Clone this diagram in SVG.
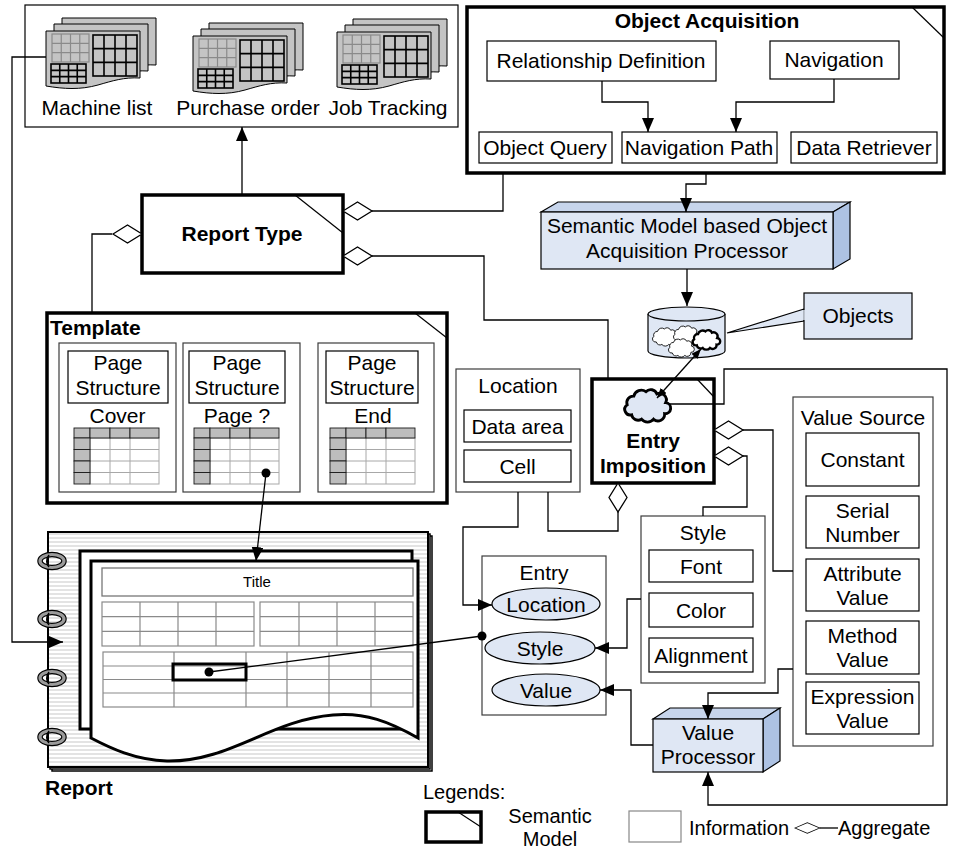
<svg xmlns="http://www.w3.org/2000/svg" xmlns:xlink="http://www.w3.org/1999/xlink" width="960" height="850" viewBox="0 0 960 850">
<style>
  .t { font-family: "Liberation Sans", Arial, sans-serif; font-size: 21px; fill: #000; }
  .c { text-anchor: middle; }
  .b { font-weight: bold; }
  .lg { font-size: 20px; }
  .info { fill: #fff; stroke: #3c3c3c; stroke-width: 1.2; }
  .box { fill: #fff; stroke: #000; stroke-width: 1.2; }
  .sem { fill: #fff; stroke: #000; stroke-width: 3.5; }
  .corner { fill: none; stroke: #000; stroke-width: 1.2; }
  .ln { fill: none; stroke: #000; stroke-width: 1.3; }
  .blue { fill: #dfe7f4; stroke: #000; stroke-width: 1.2; }
  .blueTop { fill: #c7d5ec; stroke: #000; stroke-width: 1.2; }
  .blueSide { fill: #adc2e3; stroke: #000; stroke-width: 1.2; }
  .dia { fill: #fff; stroke: #000; stroke-width: 1.3; }
  .pg { fill: #c4c4c4; stroke: #000; stroke-width: 1; }
  .gg { fill: none; stroke: #8a8a8a; stroke-width: 1.2; }
  .dg { fill: none; stroke: #000; stroke-width: 1.6; }
  .btn { fill: #bdbdbd; stroke: #1a1a1a; stroke-width: 0.9; }
  .cloud { fill: #fff; stroke: #000; stroke-width: 1.4; }
</style>
<defs>
  <marker id="ah" viewBox="0 0 14 12" refX="14" refY="6" markerWidth="14" markerHeight="12" orient="auto" markerUnits="userSpaceOnUse">
    <path d="M0,0 L14,6 L0,12 z" fill="#000"/>
  </marker>
  <marker id="ahs" viewBox="0 0 10 8" refX="10" refY="4" markerWidth="10" markerHeight="8" orient="auto-start-reverse" markerUnits="userSpaceOnUse">
    <path d="M0,0 L10,4 L0,8 z" fill="#000"/>
  </marker>
  <marker id="dot" viewBox="0 0 10 10" refX="5" refY="5" markerWidth="10" markerHeight="10" markerUnits="userSpaceOnUse">
    <circle cx="5" cy="5" r="4.5" fill="#000"/>
  </marker>
  <pattern id="stripes" width="6" height="4" patternUnits="userSpaceOnUse">
    <rect width="6" height="4" fill="#fff"/>
    <line x1="0" y1="2" x2="6" y2="2" stroke="#c8c8c8" stroke-width="1"/>
  </pattern>
  <path id="cloudShape" d="M-14,8 a5,5 0 0 1 -4,-9 a6,6 0 0 1 6,-8 a7,7 0 0 1 11,-4 a6,6 0 0 1 10,2 a6,6 0 0 1 8,8 a5,5 0 0 1 -1,10 a6,6 0 0 1 -10,5 a7,7 0 0 1 -11,0 a6,6 0 0 1 -9,-4 z"/>
  <path id="diamond" d="M0,0 L14.5,-9 L29,0 L14.5,9 z"/>
  <path id="sheet" d="M0,0 H94 V47 C78,46 66,50 52,54 C34,59 18,58 0,55 Z"/>
  <!-- stacked spreadsheet document icon -->
  <g id="docstack">
    <use xlink:href="#sheet" class="pg" transform="translate(16,-13)"/>
    <use xlink:href="#sheet" class="pg" transform="translate(8,-7)"/>
    <use xlink:href="#sheet" class="pg"/>
    <rect x="6" y="3" width="37" height="28" class="gg"/>
    <path d="M15.25,3 V31 M24.5,3 V31 M33.75,3 V31 M6,12.33 H43 M6,21.67 H43" class="gg"/>
    <rect x="47" y="4" width="44" height="41" class="dg"/>
    <path d="M58,4 V45 M69,4 V45 M80,4 V45 M47,17.67 H91 M47,31.33 H91" class="dg"/>
    <rect x="5" y="33" width="35" height="19" class="dg"/>
    <path d="M13.75,33 V52 M22.5,33 V52 M31.25,33 V52 M5,39.33 H40 M5,45.67 H40" class="dg"/>
  </g>
  <!-- small table with header buttons -->
  <g id="tbl">
    <rect x="16" y="10" width="69" height="46" fill="#fff" stroke="#a8a8a8" stroke-width="1"/>
    <path d="M36,10 V56 M56,10 V56 M16,21.5 H85 M16,33 H85 M16,44.5 H85" stroke="#a8a8a8" stroke-width="1" fill="none"/>
    <rect x="0" y="0" width="16" height="10" class="btn"/>
    <rect x="16" y="0" width="20" height="10" class="btn"/>
    <rect x="36" y="0" width="20" height="10" class="btn"/>
    <rect x="56" y="0" width="29" height="10" class="btn"/>
    <rect x="0" y="10" width="16" height="11.5" class="btn"/>
    <rect x="0" y="21.5" width="16" height="11.5" class="btn"/>
    <rect x="0" y="33" width="16" height="11.5" class="btn"/>
    <rect x="0" y="44.5" width="16" height="11.5" class="btn"/>
  </g>
  <!-- binder ring -->
  <g id="ring">
    <ellipse cx="0" cy="0" rx="12" ry="6.5" fill="none" stroke="#000" stroke-width="5.5"/>
    <ellipse cx="0" cy="0" rx="12" ry="6.5" fill="none" stroke="#9a9a9a" stroke-width="3.2"/>
    <path d="M-3,-6 C-6,-2 -6,3 -3,6" fill="none" stroke="#000" stroke-width="1.5"/>
  </g>
</defs>

<rect width="960" height="850" fill="#fff"/>

<!-- report type catalogue -->
<g id="report-catalogue">
  <rect x="25" y="5" width="433" height="122" class="box"/>
  <use xlink:href="#docstack" transform="translate(46,31)"/>
  <use xlink:href="#docstack" transform="translate(193,36)"/>
  <use xlink:href="#docstack" transform="translate(337,32)"/>
  <text x="97" y="115" class="t c">Machine list</text>
  <text x="248" y="115" class="t c">Purchase order</text>
  <text x="388" y="115" class="t c">Job Tracking</text>
</g>

<!-- object acquisition -->
<g id="object-acquisition">
  <rect x="467" y="7" width="477" height="166" class="sem"/>
  <line x1="912" y1="7" x2="944" y2="38" class="corner"/>
  <text x="707" y="28" class="t c b">Object Acquisition</text>
  <rect x="487" y="41" width="229" height="40" class="box"/>
  <text x="601" y="68" class="t c">Relationship Definition</text>
  <rect x="770" y="41" width="129" height="38" class="box"/>
  <text x="834" y="67" class="t c">Navigation</text>
  <rect x="479" y="132" width="133" height="31" class="box"/>
  <text x="545" y="155" class="t c">Object Query</text>
  <rect x="622" y="132" width="155" height="31" class="box"/>
  <text x="699" y="155" class="t c">Navigation Path</text>
  <rect x="791" y="132" width="146" height="31" class="box"/>
  <text x="864" y="155" class="t c">Data Retriever</text>
</g>

<!-- report type -->
<g id="report-type">
  <rect x="142" y="195" width="201" height="78" class="sem"/>
  <line x1="295" y1="195" x2="343" y2="233" class="corner"/>
  <text x="242" y="241" class="t c b">Report Type</text>
</g>

<!-- acquisition processor -->
<g id="acquisition-processor">
  <polygon points="541,212 558,202 850,202 833,212" class="blueTop"/>
  <polygon points="833,212 850,202 850,259 833,269" class="blueSide"/>
  <rect x="541" y="212" width="292" height="57" class="blue"/>
  <text x="687" y="233" class="t c">Semantic Model based Object</text>
  <text x="687" y="258" class="t c">Acquisition Processor</text>
</g>

<!-- object store -->
<g id="object-store">
  <path d="M648,314 V351 A38.5,7 0 0 0 725,351 V314" class="blue"/>
  <ellipse cx="686.5" cy="314" rx="38.5" ry="7" class="blue"/>
  <use xlink:href="#cloudShape" class="cloud" transform="translate(665,337) scale(0.62)"/>
  <use xlink:href="#cloudShape" class="cloud" transform="translate(686,335) scale(0.62)"/>
  <use xlink:href="#cloudShape" class="cloud" transform="translate(681,348) scale(0.62)"/>
  <use xlink:href="#cloudShape" class="cloud" transform="translate(706,340) scale(0.66)" style="stroke-width:3.6"/>
</g>

<!-- objects callout -->
<g id="objects-callout">
  <polygon points="804,309 727,333 804,321" class="blue"/>
  <rect x="804" y="293" width="108" height="46" class="blue"/>
  <line x1="804" y1="310" x2="804" y2="320" stroke="#dfe7f4" stroke-width="1.5"/>
  <text x="858" y="323" class="t c">Objects</text>
</g>

<!-- template -->
<g id="template">
  <rect x="47" y="313" width="400" height="190" class="sem"/>
  <line x1="415" y1="313" x2="447" y2="338" class="corner"/>
  <text x="50" y="335" class="t b">Template</text>
  <rect x="59" y="343" width="117" height="149" class="info"/>
  <rect x="68" y="351" width="100" height="52" class="box"/>
  <text x="118" y="370" class="t c">Page</text>
  <text x="118" y="395" class="t c">Structure</text>
  <text x="117.5" y="423" class="t c">Cover</text>
  <use xlink:href="#tbl" transform="translate(74,428)"/>
  <rect x="183" y="343" width="117" height="149" class="info"/>
  <rect x="189" y="351" width="96" height="52" class="box"/>
  <text x="237" y="370" class="t c">Page</text>
  <text x="237" y="395" class="t c">Structure</text>
  <text x="237" y="423" class="t c">Page ?</text>
  <use xlink:href="#tbl" transform="translate(194,428)"/>
  <rect x="318" y="343" width="116" height="149" class="info"/>
  <rect x="326" y="351" width="92" height="52" class="box"/>
  <text x="372" y="370" class="t c">Page</text>
  <text x="372" y="395" class="t c">Structure</text>
  <text x="373" y="423" class="t c">End</text>
  <use xlink:href="#tbl" transform="translate(330,428)"/>
</g>

<!-- report -->
<g id="report">
  <rect x="52" y="536" width="380" height="235" fill="#fff" stroke="#000" stroke-width="1.5"/>
  <rect x="50" y="534" width="380" height="235" fill="#fff" stroke="#000" stroke-width="1.5"/>
  <rect x="48" y="532" width="380" height="235" fill="url(#stripes)" stroke="#000" stroke-width="2"/>
  <rect x="80" y="551" width="332" height="178" fill="#fff" stroke="#000" stroke-width="3"/>
  <path d="M91,561 H418 V738 C390,722 365,712 333,715 C270,720 230,762 167,761 C135,760 110,748 91,738 Z" fill="#fff" stroke="#000" stroke-width="3"/>
  <rect x="102" y="568" width="311" height="28" fill="#fff" stroke="#777" stroke-width="1.3"/>
  <text x="257" y="587" class="t c" style="font-size:15px">Title</text>
  <rect x="102" y="602" width="152" height="44" class="gg"/>
  <path d="M140,602 V646 M178,602 V646 M216,602 V646 M102,616.7 H254 M102,631.3 H254" class="gg"/>
  <rect x="260" y="602" width="153" height="44" class="gg"/>
  <path d="M299,602 V646 M337,602 V646 M375,602 V646 M260,616.7 H413 M260,631.3 H413" class="gg"/>
  <rect x="103" y="652" width="310" height="55" class="gg"/>
  <path d="M174,652 V707 M246,652 V707 M287,652 V707 M329,652 V707 M371,652 V707 M103,666 H413 M103,679.5 H413 M103,693 H413" class="gg"/>
  <rect x="173" y="664" width="73" height="16" fill="none" stroke="#000" stroke-width="3"/>
  <use xlink:href="#ring" transform="translate(52,561)"/>
  <use xlink:href="#ring" transform="translate(52,619)"/>
  <use xlink:href="#ring" transform="translate(52,678)"/>
  <use xlink:href="#ring" transform="translate(52,737)"/>
  <text x="45" y="795" class="t b">Report</text>
</g>

<!-- location -->
<g id="location">
  <rect x="456" y="369" width="124" height="123" class="info"/>
  <text x="518" y="393" class="t c">Location</text>
  <rect x="464" y="410" width="107" height="32" class="box"/>
  <text x="517.5" y="434" class="t c">Data area</text>
  <rect x="464" y="450" width="107" height="32" class="box"/>
  <text x="517.5" y="474" class="t c">Cell</text>
</g>

<!-- entry imposition -->
<g id="entry-imposition">
  <rect x="592" y="379" width="122" height="104" class="sem"/>
  <line x1="697" y1="379" x2="714" y2="397" class="corner"/>
  <use xlink:href="#cloudShape" transform="translate(647,406) scale(1.1)" fill="#dfe7f4" stroke="#000" stroke-width="2.6"/>
  <text x="653" y="448" class="t c b">Entry</text>
  <text x="653" y="473" class="t c b">Imposition</text>
</g>

<!-- style -->
<g id="style">
  <rect x="641" y="516" width="124" height="167" class="info"/>
  <text x="703" y="540" class="t c">Style</text>
  <rect x="649" y="550" width="104" height="32" class="box"/>
  <text x="701" y="574" class="t c">Font</text>
  <rect x="649" y="593" width="104" height="34" class="box"/>
  <text x="701" y="618" class="t c">Color</text>
  <rect x="649" y="638" width="104" height="34" class="box"/>
  <text x="701" y="663" class="t c">Alignment</text>
</g>

<!-- entry -->
<g id="entry">
  <rect x="482" y="556" width="124" height="159" class="info"/>
  <text x="544" y="580" class="t c">Entry</text>
  <ellipse cx="546" cy="604" rx="54" ry="16" class="blue"/>
  <text x="546" y="611.5" class="t c">Location</text>
  <ellipse cx="540" cy="648" rx="55" ry="16" class="blue"/>
  <text x="540" y="655.5" class="t c">Style</text>
  <ellipse cx="546" cy="690" rx="54" ry="16" class="blue"/>
  <text x="546" y="697.5" class="t c">Value</text>
</g>

<!-- value source -->
<g id="value-source">
  <rect x="793" y="397" width="140" height="349" class="info"/>
  <text x="863" y="425" class="t c">Value Source</text>
  <rect x="806" y="433" width="113" height="53" class="box"/>
  <text x="862.5" y="467" class="t c">Constant</text>
  <rect x="806" y="496" width="113" height="52" class="box"/>
  <text x="862.5" y="517.5" class="t c">Serial</text>
  <text x="862.5" y="541.5" class="t c">Number</text>
  <rect x="806" y="559" width="113" height="52" class="box"/>
  <text x="862.5" y="580.5" class="t c">Attribute</text>
  <text x="862.5" y="604.5" class="t c">Value</text>
  <rect x="806" y="621" width="113" height="53" class="box"/>
  <text x="862.5" y="643" class="t c">Method</text>
  <text x="862.5" y="667" class="t c">Value</text>
  <rect x="806" y="682" width="113" height="52" class="box"/>
  <text x="862.5" y="703.5" class="t c">Expression</text>
  <text x="862.5" y="727.5" class="t c">Value</text>
</g>

<!-- value processor -->
<g id="value-processor">
  <polygon points="653,719 670,708 780,708 763,719" class="blueTop"/>
  <polygon points="763,719 780,708 780,761 763,772" class="blueSide"/>
  <rect x="653" y="719" width="110" height="53" class="blue"/>
  <text x="708" y="740" class="t c">Value</text>
  <text x="708" y="764" class="t c">Processor</text>
</g>

<!-- legend -->
<g id="legend">
  <text x="423" y="799" class="t lg">Legends:</text>
  <rect x="426" y="812" width="55" height="30" class="sem"/>
  <line x1="458" y1="812" x2="481" y2="827" class="corner"/>
  <text x="550" y="823" class="t lg c">Semantic</text>
  <text x="550" y="846" class="t lg c">Model</text>
  <rect x="629" y="811" width="52" height="31" fill="#fff" stroke="#888" stroke-width="1.2"/>
  <text x="689" y="835" class="t lg">Information</text>
  <use xlink:href="#diamond" class="dia" transform="translate(795,828) scale(0.85,0.6)"/>
  <line x1="819.6" y1="828" x2="838" y2="828" class="ln"/>
  <text x="838" y="835" class="t lg">Aggregate</text>
</g>

<!-- connectors -->
<g id="connectors">
  <polyline points="46,57 12,57 12,642 63,642" class="ln" marker-end="url(#ah)"/>
  <line x1="242" y1="195" x2="242" y2="127" class="ln" marker-end="url(#ah)"/>
  <polyline points="503,173 503,211 372,211" class="ln"/>
  <use xlink:href="#diamond" class="dia" transform="translate(343,211)"/>
  <polyline points="372,256 484,256 484,320 608,320 608,379" class="ln"/>
  <use xlink:href="#diamond" class="dia" transform="translate(343,256)"/>
  <polyline points="112,234 92,234 92,313" class="ln"/>
  <use xlink:href="#diamond" class="dia" transform="translate(113,234)"/>
  <polyline points="602,81 602,102 648,102 648,132" class="ln" marker-end="url(#ah)"/>
  <polyline points="834,79 834,102 736,102 736,132" class="ln" marker-end="url(#ah)"/>
  <polyline points="706,173 706,184 686,184 686,212" class="ln" marker-end="url(#ah)"/>
  <line x1="687" y1="269" x2="687" y2="306" class="ln" marker-end="url(#ah)"/>
  <line x1="657" y1="398" x2="701" y2="349" class="ln" stroke-width="1" marker-start="url(#ahs)" marker-end="url(#ahs)"/>
  <polyline points="668,404 724,404 724,369 947,369 947,805 708,805 708,772" class="ln" marker-end="url(#ah)"/>
  <polyline points="743,430 773,430 773,571 793,571" class="ln"/>
  <use xlink:href="#diamond" class="dia" transform="translate(714,430)"/>
  <polyline points="743,456 747,456 747,507 703,507 703,516" class="ln"/>
  <use xlink:href="#diamond" class="dia" transform="translate(714,456)"/>
  <polyline points="618,512 618,531 548,531 548,492" class="ln"/>
  <use xlink:href="#diamond" class="dia" transform="translate(618,483) rotate(90)"/>
  <polyline points="518,492 518,527 463,527 463,605 492,605" class="ln" marker-end="url(#ah)"/>
  <polyline points="641,599 627,599 627,648 595,648" class="ln" marker-end="url(#ah)"/>
  <polyline points="653,745 631,745 631,690 600,690" class="ln" marker-end="url(#ah)"/>
  <polyline points="793,669 778,669 778,693 708,693 708,719" class="ln" marker-end="url(#ah)"/>
  <line x1="266" y1="473" x2="256" y2="561" class="ln" marker-start="url(#dot)" marker-end="url(#ah)"/>
  <line x1="209" y1="672" x2="482" y2="636" class="ln" marker-start="url(#dot)" marker-end="url(#dot)"/>
</g>
</svg>
